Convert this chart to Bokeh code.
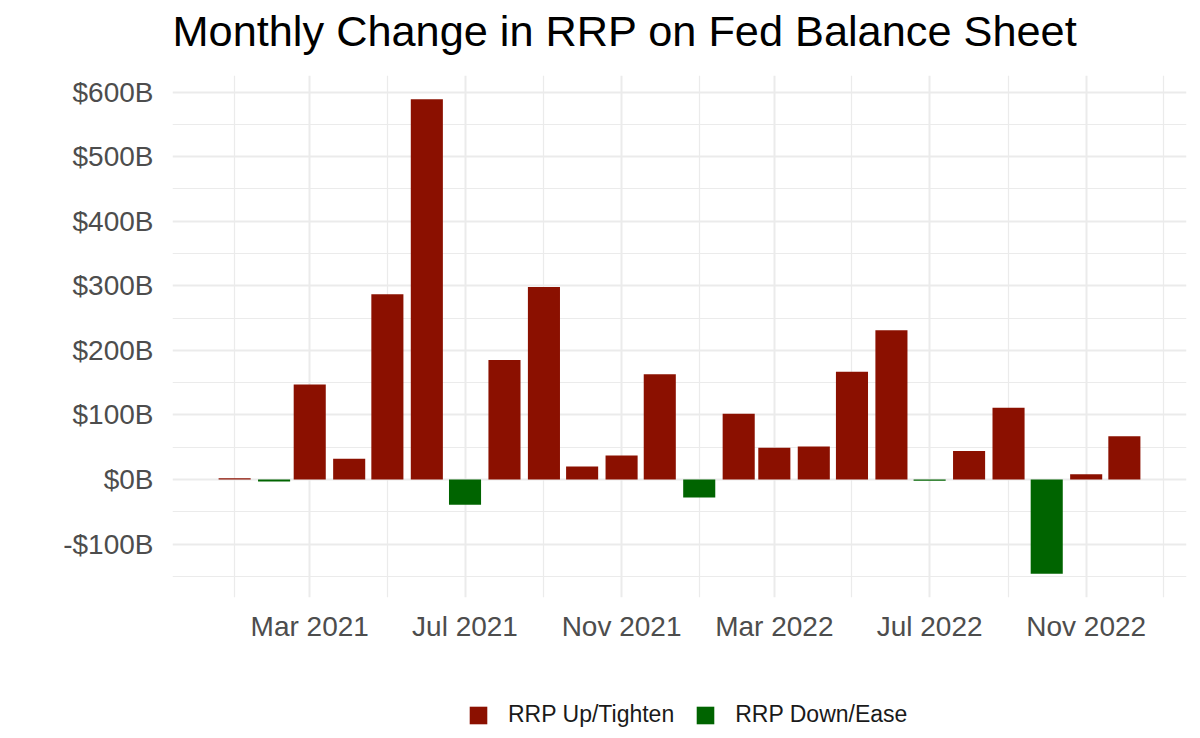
import pandas as pd
from bokeh.plotting import figure
from bokeh.layouts import column
from bokeh.models import (ColumnDataSource, FixedTicker, Range1d, Legend, LegendItem,
                          DatetimeTickFormatter, Label)
from bokeh.embed import file_html
from bokeh.resources import INLINE

# ---------------- data ----------------
months = ["2021-01", "2021-02", "2021-03", "2021-04", "2021-05", "2021-06",
          "2021-07", "2021-08", "2021-09", "2021-10", "2021-11", "2021-12",
          "2022-01", "2022-02", "2022-03", "2022-04", "2022-05", "2022-06",
          "2022-07", "2022-08", "2022-09", "2022-10", "2022-11", "2022-12"]
rrp_change_billions = [2, -3, 147, 32, 287, 589, -39, 185, 298, 20, 37, 163,
                       -28, 102, 49, 51, 167, 231, -2, 44, 111, -146, 8, 67]

x_major_ticks = ["2021-03", "2021-07", "2021-11", "2022-03", "2022-07", "2022-11"]
x_minor_ticks = ["2021-01", "2021-05", "2021-09", "2022-01", "2022-05", "2022-09", "2023-01"]
y_ticks = [-100, 0, 100, 200, 300, 400, 500, 600]
y_minor_ticks = [-150, -50, 50, 150, 250, 350, 450, 550]
y_tick_labels = ["-$100B", "$0B", "$100B", "$200B", "$300B", "$400B", "$500B", "$600B"]

series_names = ["RRP Up/Tighten", "RRP Down/Ease"]
series_colors = ["#8B1000", "#006400"]

title_text = "Monthly Change in RRP on Fed Balance Sheet"

# ---------------- helpers ----------------
DAY_MS = 86400000.0


def to_ms(vals):
    return [d.timestamp() * 1000.0 for d in pd.to_datetime(vals)]


x_ms = to_ms(months)
up_idx = [i for i, v in enumerate(rrp_change_billions) if v >= 0]
dn_idx = [i for i, v in enumerate(rrp_change_billions) if v < 0]

src_up = ColumnDataSource(dict(x=[x_ms[i] for i in up_idx],
                               top=[rrp_change_billions[i] for i in up_idx]))
src_dn = ColumnDataSource(dict(x=[x_ms[i] for i in dn_idx],
                               top=[rrp_change_billions[i] for i in dn_idx]))

bar_w = 0.9 * 28 * DAY_MS
span = (max(x_ms) - min(x_ms)) + bar_w
x_pad = 0.05 * span + bar_w / 2
ymin, ymax = min(rrp_change_billions), max(rrp_change_billions)
y_pad = 0.05 * (ymax - ymin)

FONT = "Liberation Sans"
LEFT, FRAME_W, RIGHT = 172, 1014, 6

# ---------------- title strip ----------------
head = figure(frame_width=FRAME_W, frame_height=75, output_backend="svg",
              toolbar_location=None, title_location=None,
              x_axis_location=None, y_axis_location=None,
              x_range=Range1d(0, 1), y_range=Range1d(0, 1),
              min_border_left=LEFT, min_border_right=RIGHT,
              min_border_top=0, min_border_bottom=0, outline_line_color=None)
head.grid.visible = False
head.add_layout(Label(x=0, y=45, x_units="screen", y_units="screen", text=title_text,
                      text_font=FONT, text_font_size="43.3px", text_color="#000000",
                      text_baseline="alphabetic", text_align="left"))

# ---------------- main chart ----------------
p = figure(frame_width=FRAME_W, frame_height=522, x_axis_type="datetime",
           output_backend="svg", toolbar_location=None, title_location=None,
           x_range=Range1d(min(x_ms) - x_pad, max(x_ms) + x_pad),
           y_range=Range1d(ymin - y_pad, ymax + y_pad),
           min_border_left=LEFT, min_border_right=RIGHT,
           min_border_top=0, min_border_bottom=60)

p.outline_line_color = None
p.background_fill_color = "white"
p.border_fill_color = "white"

r_up = p.vbar(x="x", top="top", bottom=0, width=bar_w, source=src_up,
              fill_color=series_colors[0], line_color=None)
r_dn = p.vbar(x="x", top="top", bottom=0, width=bar_w, source=src_dn,
              fill_color=series_colors[1], line_color=None)

p.xaxis.ticker = FixedTicker(ticks=to_ms(x_major_ticks), minor_ticks=to_ms(x_minor_ticks))
p.xaxis.formatter = DatetimeTickFormatter(months="%b %Y", days="%b %Y", years="%b %Y")
p.yaxis.ticker = FixedTicker(ticks=y_ticks, minor_ticks=y_minor_ticks)
p.yaxis.major_label_overrides = {t: lab for t, lab in zip(y_ticks, y_tick_labels)}

for ax in (p.xaxis, p.yaxis):
    ax.axis_line_color = None
    ax.major_tick_line_color = None
    ax.minor_tick_line_color = None
    ax.major_tick_out = 0
    ax.major_tick_in = 0
    ax.minor_tick_out = 0
    ax.major_label_text_font = FONT
    ax.major_label_text_font_size = "28px"
    ax.major_label_text_color = "#4D4D4D"
p.xaxis.major_label_standoff = 13
p.yaxis.major_label_standoff = 19

for g in (p.xgrid, p.ygrid):
    g.grid_line_color = "#EBEBEB"
    g.grid_line_width = 2
    g.minor_grid_line_color = "#EBEBEB"
    g.minor_grid_line_width = 1.2

# ---------------- legend strip ----------------
leg = figure(frame_width=FRAME_W, frame_height=81, output_backend="svg",
             toolbar_location=None, title_location=None,
             x_axis_location=None, y_axis_location=None,
             x_range=Range1d(0, 1), y_range=Range1d(0, 1),
             min_border_left=LEFT, min_border_right=RIGHT,
             min_border_top=0, min_border_bottom=0, outline_line_color=None)
leg.grid.visible = False
leg_up = leg.vbar(x="x", top="top", bottom=0, width=bar_w, source=src_up,
                  fill_color=series_colors[0], line_color=None, visible=False)
leg_dn = leg.vbar(x="x", top="top", bottom=0, width=bar_w, source=src_dn,
                  fill_color=series_colors[1], line_color=None, visible=False)

legend = Legend(items=[LegendItem(label=series_names[0], renderers=[leg_up]),
                       LegendItem(label=series_names[1], renderers=[leg_dn])],
                orientation="horizontal", location=(295, 10),
                border_line_color=None, background_fill_alpha=0,
                inactive_fill_alpha=0,
                glyph_width=22, glyph_height=22,
                label_text_font=FONT, label_text_font_size="23px",
                label_text_color="#1A1A1A", label_height=22,
                label_standoff=19, spacing=20, padding=0, margin=0)
leg.add_layout(legend, "center")

layout = column(head, p, leg, spacing=0)
open("out.html", "w").write(file_html(layout, INLINE))
